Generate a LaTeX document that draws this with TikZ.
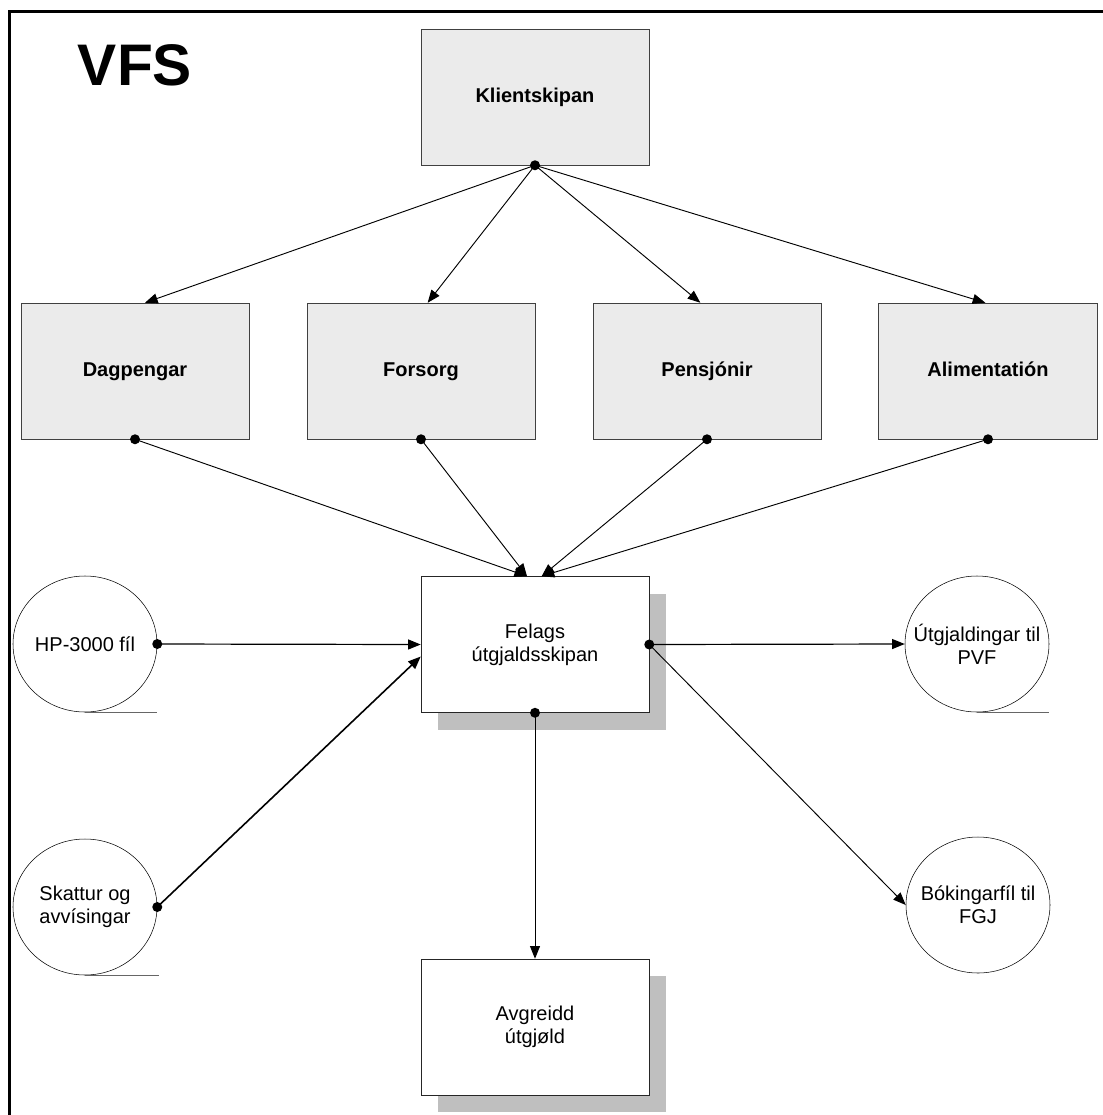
\documentclass[tikz,border=0pt]{standalone}
\usepackage{fontspec}
\setmainfont{Liberation Sans}
\usetikzlibrary{arrows.meta,shapes.geometric,shadows}

\tikzset{
  sysbox/.style={draw=black!75,fill=black!8,minimum width=171pt,minimum height=102pt,
    text height=11pt,text depth=3pt,font=\fontsize{15}{17}\selectfont\bfseries},
  procbox/.style={draw=black!85,fill=white,minimum width=171pt,minimum height=102pt,
    align=center,font=\fontsize{15}{17}\selectfont,
    general shadow={fill=black!25,shadow xshift=12.75pt,shadow yshift=-12.75pt}},
  filecirc/.style={draw,ellipse,minimum width=108pt,minimum height=102pt,inner sep=0pt},
  flow/.style={-{Triangle[length=9.5pt,width=7.5pt]},line width=0.7pt},
  dot/.style={fill=black}
}

\begin{document}
\begin{tikzpicture}[x=0.75pt,y=-0.75pt]
  \useasboundingbox (0,0) rectangle (1103,1115);
  % Frame
  \draw[line width=2.25pt] (9,1115) -- (9,11) -- (1103,11);
  \node[font=\fontsize{44}{48}\selectfont\bfseries] (title) at (135,65) {VFS};

  % Systems
  \node[sysbox] (klient) at (535,97)  {Klientskipan};
  \node[sysbox] (dag)    at (135,371) {Dagpengar};
  \node[sysbox] (fors)   at (421,371) {Forsorg};
  \node[sysbox] (pens)   at (707,371) {Pensjónir};
  \node[sysbox,minimum width=164pt] (alim) at (988,371) {Alimentatión};

  % Processes
  \node[procbox] (felags) at (535,644.5) {Felags\\útgjaldsskipan};
  \node[procbox] (avgr)   at (535,1027)  {Avgreidd\\útgjøld};

  % Files
  \node[filecirc,label={[align=center,font=\fontsize{15}{17}\selectfont]center:HP-3000 fíl}] (hp) at (85,644) {};
  \node[filecirc,label={[align=center,font=\fontsize{15}{17}\selectfont]center:Skattur og\\avvísingar}] (skatt) at (85,907) {};
  \node[filecirc,label={[align=center,font=\fontsize{15}{17}\selectfont]center:Útgjaldingar til\\PVF}] (utg) at (977,644) {};
  \node[filecirc,label={[align=center,font=\fontsize{15}{17}\selectfont]center:Bókingarfíl til\\FGJ}] (bok) at (978,905) {};
  \draw[black!60] (hp.south) -- ++(72,0);
  \draw[black!60] (skatt.south) -- ++(74,0);
  \draw[black!60] (utg.south) -- ++(72,0);

  % Flows
  \draw[flow] (klient.south) -- ([xshift=7.5pt]dag.north);
  \draw[flow] (klient.south) -- ([xshift=5pt]fors.north);
  \draw[flow] (klient.south) -- ([xshift=-5pt]pens.north);
  \draw[flow] (klient.south) -- ([xshift=-2pt]alim.north);
  \draw[flow] (dag.south)  -- ([xshift=-6pt]felags.north);
  \draw[flow] (fors.south) -- ([xshift=-6pt]felags.north);
  \draw[flow] (pens.south) -- ([xshift=5pt]felags.north);
  \draw[flow] (alim.south) -- ([xshift=5pt]felags.north);
  \draw[flow,line width=0.9pt] (hp.east) -- (felags.west);
  \draw[flow,line width=1.2pt] (skatt.east) -- ([yshift=-9pt]felags.west);
  \draw[flow,line width=0.9pt] (felags.east) -- (utg.west);
  \draw[flow] (felags.east) -- (bok.west);
  \draw[flow] (felags.south) -- (avgr.north);

  % Dots
  \foreach \p in {klient.south,dag.south,fors.south,pens.south,alim.south,
                  hp.east,skatt.east,felags.east,felags.south}
    \fill[dot] (\p) circle (3.75pt);
\end{tikzpicture}
\end{document}
